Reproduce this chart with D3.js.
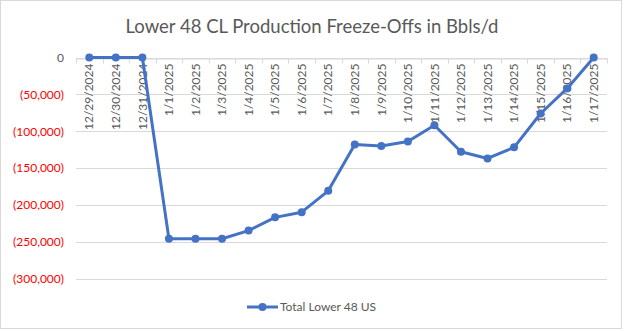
<!DOCTYPE html>
<html>
<head>
<meta charset="utf-8">
<script src="https://cdn.jsdelivr.net/npm/d3@7"></script>
<style>
  body { margin: 0; background: #fff; }
  svg { display: block; font-family: Lato, "Open Sans", sans-serif; }
</style>
</head>
<body>
<svg id="chart" width="624" height="331"></svg>
<script>
const categories = ["12/29/2024","12/30/2024","12/31/2024","1/1/2025","1/2/2025","1/3/2025","1/4/2025","1/5/2025","1/6/2025","1/7/2025","1/8/2025","1/9/2025","1/10/2025","1/11/2025","1/12/2025","1/13/2025","1/14/2025","1/15/2025","1/16/2025","1/17/2025"];
const values = [0, 0, 0, -246000, -246000, -246000, -235000, -217000, -210000, -181000, -118000, -120000, -114000, -92000, -128000, -137000, -122000, -76000, -42000, 0];
const yTicks = [0, -50000, -100000, -150000, -200000, -250000, -300000];
const seriesName = "Total Lower 48 US";
const title = "Lower 48 CL Production Freeze-Offs in Bbls/d";

const svg = d3.select("#chart");
const W = 624, H = 331;
const m = { left: 76, right: 17, top: 57.5, bottom: 331 - 278.5 };

svg.append("rect").attr("x", 0.5).attr("y", 0.5).attr("width", W - 3).attr("height", H - 3)
  .attr("fill", "#fff").attr("stroke", "#d9d9d9");

svg.append("text").attr("x", 312).attr("y", 33).attr("text-anchor", "middle")
  .attr("font-size", 18.5).attr("fill", "#595959").text(title);

const x = d3.scaleBand().domain(categories).range([m.left, W - m.right]);
const y = d3.scaleLinear().domain([-300000, 0]).range([H - m.bottom, m.top]);

const fmt = v => v === 0 ? "0" : "(" + d3.format(",")(Math.abs(v)) + ")";

// gridlines
svg.append("g").selectAll("line").data(yTicks).join("line")
  .attr("x1", m.left).attr("x2", W - m.right)
  .attr("y1", d => Math.round(y(d)) + 0.5).attr("y2", d => Math.round(y(d)) + 0.5)
  .attr("stroke", "#d9d9d9").attr("stroke-width", 1);

// y labels
const yAxis = d3.axisLeft(y).tickValues(yTicks).tickFormat(fmt).tickSize(0).tickPadding(12);
const gy = svg.append("g").attr("transform", `translate(${m.left},0)`).call(yAxis);
gy.select(".domain").remove();
gy.selectAll("text").attr("font-size", 12).attr("font-family", "Lato, 'Open Sans', sans-serif")
  .attr("fill", d => d < 0 ? "#ff0000" : "#595959");

// x axis at zero
const xAxis = d3.axisBottom(x).tickSize(0).tickPadding(0);
const gx = svg.append("g").attr("transform", `translate(0,${Math.round(y(0)) + 0.5})`).call(xAxis);
gx.select(".domain").attr("stroke", "#d9d9d9");
gx.selectAll(".tick text")
  .attr("transform", "rotate(-90)")
  .attr("x", -5).attr("y", 0).attr("dy", "0.35em")
  .attr("text-anchor", "end")
  .attr("font-size", 12).attr("font-family", "Lato, 'Open Sans', sans-serif")
  .attr("fill", "#595959");
// boundary tick marks
svg.append("g").selectAll("line").data(categories.concat(["__end"])).join("line")
  .attr("x1", (d, i) => Math.round(m.left + i * x.step()) + 0.5)
  .attr("x2", (d, i) => Math.round(m.left + i * x.step()) + 0.5)
  .attr("y1", Math.round(y(0)) + 0.5).attr("y2", Math.round(y(0)) + 5.5)
  .attr("stroke", "#d9d9d9");

const cx = d => x(d) + x.bandwidth() / 2;
const line = d3.line().x((d, i) => cx(categories[i])).y(d => y(d));
svg.append("path").datum(values).attr("d", line)
  .attr("fill", "none").attr("stroke", "#4472c4").attr("stroke-width", 3).attr("stroke-linejoin", "round");
svg.append("g").selectAll("circle").data(values).join("circle")
  .attr("cx", (d, i) => cx(categories[i])).attr("cy", d => y(d)).attr("r", 4)
  .attr("fill", "#4472c4");

// legend
const lg = svg.append("g");
lg.append("line").attr("x1", 247).attr("x2", 278).attr("y1", 307).attr("y2", 307)
  .attr("stroke", "#4472c4").attr("stroke-width", 3);
lg.append("circle").attr("cx", 262.5).attr("cy", 307).attr("r", 4).attr("fill", "#4472c4");
lg.append("text").attr("x", 280).attr("y", 307).attr("dy", "0.35em")
  .attr("font-size", 12).attr("fill", "#595959").text(seriesName);
</script>
</body>
</html>
